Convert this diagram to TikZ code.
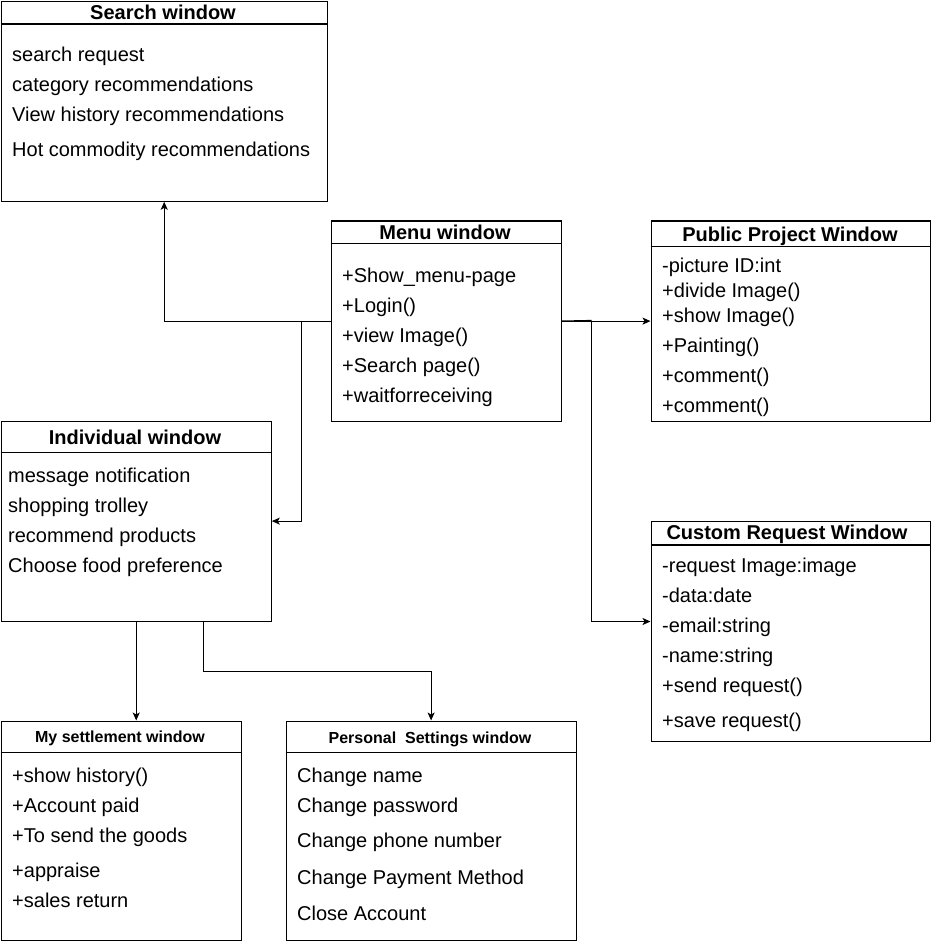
\documentclass[tikz,border=0pt]{standalone}
\usepackage{fontspec}
\setmainfont{Liberation Sans}
\usetikzlibrary{arrows.meta,calc}
\tikzset{
  cls/.style={draw=black, line width=1.2pt, fill=white, inner sep=0pt, anchor=north west},
  item/.style={anchor=base west, inner sep=0pt, font=\fontsize{20}{24}\selectfont},
  ttl/.style={anchor=base, inner sep=0pt, font=\fontsize{20}{24}\selectfont\bfseries},
  sttl/.style={anchor=base, inner sep=0pt, font=\fontsize{16}{19}\selectfont\bfseries},
  hdr/.style={line width=1.2pt},
  arr/.style={line width=1.2pt, -{Stealth[length=8pt,width=7pt,inset=2pt]}},
  wire/.style={line width=1.2pt}
}
\begin{document}
\begin{tikzpicture}[x=1pt,y=-1pt]
\useasboundingbox (0,0) rectangle (931,941);
\fill[white] (0,0) rectangle (931,941);

% ---------- Search window ----------
\node[cls, minimum width=326pt, minimum height=200pt] (search) at (0.6,0.6) {};
\draw[hdr] ($(search.north west)+(0,23.5)$) -- ($(search.north east)+(0,23.5)$);
\node[ttl] (searcht) at (163,20) {Search window};
\node[item] (s1) at (12,62) {search request};
\node[item] (s2) at (12,92) {category recommendations};
\node[item] (s3) at (12,122) {View history recommendations};
\node[item] (s4) at (12,157) {Hot commodity recommendations};

% ---------- Menu window ----------
\node[cls, minimum width=230pt, minimum height=200pt] (menu) at (330.5,220.5) {};
\draw[hdr] ($(menu.north west)+(0,23)$) -- ($(menu.north east)+(0,23)$);
\node[ttl] (menut) at (445,239) {Menu window};
\node[item] (m1) at (342,282) {+Show\_menu-page};
\node[item] (m2) at (342,312) {+Login()};
\node[item] (m3) at (342,342) {+view Image()};
\node[item] (m4) at (342,372) {+Search page()};
\node[item] (m5) at (342,402) {+waitforreceiving};

% ---------- Public Project Window ----------
\node[cls, minimum width=279.5pt, minimum height=200pt] (pub) at (650.5,220.5) {};
\draw[hdr] ($(pub.north west)+(0,26)$) -- ($(pub.north east)+(0,26)$);
\node[ttl] (pubt) at (790,241) {Public Project Window};
\node[item] (p1) at (662,272) {-picture ID:int};
\node[item] (p2) at (662,297) {+divide Image()};
\node[item] (p3) at (662,322) {+show Image()};
\node[item] (p4) at (662,352) {+Painting()};
\node[item] (p5) at (662,382) {+comment()};
\node[item] (p6) at (662,412) {+comment()};

% ---------- Individual window ----------
\node[cls, minimum width=270pt, minimum height=200pt] (ind) at (0.6,420.5) {};
\draw[hdr] ($(ind.north west)+(0,32)$) -- ($(ind.north east)+(0,32)$);
\node[ttl] (indt) at (135,444) {Individual window};
\node[item] (i1) at (8,482) {message notification};
\node[item] (i2) at (8,512) {shopping trolley};
\node[item] (i3) at (8,542) {recommend products};
\node[item] (i4) at (8,572) {Choose food preference};

% ---------- Custom Request Window ----------
\node[cls, minimum width=279.5pt, minimum height=220pt] (cust) at (650.5,520.5) {};
\draw[hdr] ($(cust.north west)+(0,24.5)$) -- ($(cust.north east)+(0,24.5)$);
\node[ttl] (custt) at (787,539) {Custom Request Window};
\node[item] (c1) at (662,572) {-request Image:image};
\node[item] (c2) at (662,602) {-data:date};
\node[item] (c3) at (662,632) {-email:string};
\node[item] (c4) at (662,662) {-name:string};
\node[item] (c5) at (662,692) {+send request()};
\node[item] (c6) at (662,727) {+save request()};

% ---------- My settlement window ----------
\node[cls, minimum width=240pt, minimum height=219pt] (sett) at (0.6,720.5) {};
\draw[hdr] ($(sett.north west)+(0,32)$) -- ($(sett.north east)+(0,32)$);
\node[sttl] (settt) at (120,742) {My settlement window};
\node[item] (t1) at (12,782) {+show history()};
\node[item] (t2) at (12,812) {+Account paid};
\node[item] (t3) at (12,842) {+To send the goods};
\node[item] (t4) at (12,877) {+appraise};
\node[item] (t5) at (12,907) {+sales return};

% ---------- Personal Settings window ----------
\node[cls, minimum width=290pt, minimum height=219pt] (pers) at (285.5,720.5) {};
\draw[hdr] ($(pers.north west)+(0,32)$) -- ($(pers.north east)+(0,32)$);
\node[sttl] (perst) at (430,743) {Personal\ \ Settings window};
\node[item] (e1) at (297,782) {Change name};
\node[item] (e2) at (297,812) {Change password};
\node[item] (e3) at (297,847) {Change phone number};
\node[item] (e4) at (297,884) {Change Payment Method};
\node[item] (e5) at (297,920) {Close Account};

% ---------- connectors ----------
\coordinate (j1) at (301.5,320.5);
\coordinate (j2) at (591.5,320.5);
\coordinate (j3) at (203.5,620.5);
\coordinate (ce) at (650.5,621.5);

\draw[arr] (menu.west) -| (search.south);
\draw[arr] (j1) |- (ind.east);
\draw[arr] (menu.east) -- (pub.west);
\draw[wire] (menu.east) -- (j2);
\draw[arr] (j2) |- (ce);
\draw[arr] (ind.south) -- (ind.south |- sett.north);
\draw[arr] (j3) -- ++(0,51) -| (pers.north);
\end{tikzpicture}
\end{document}
